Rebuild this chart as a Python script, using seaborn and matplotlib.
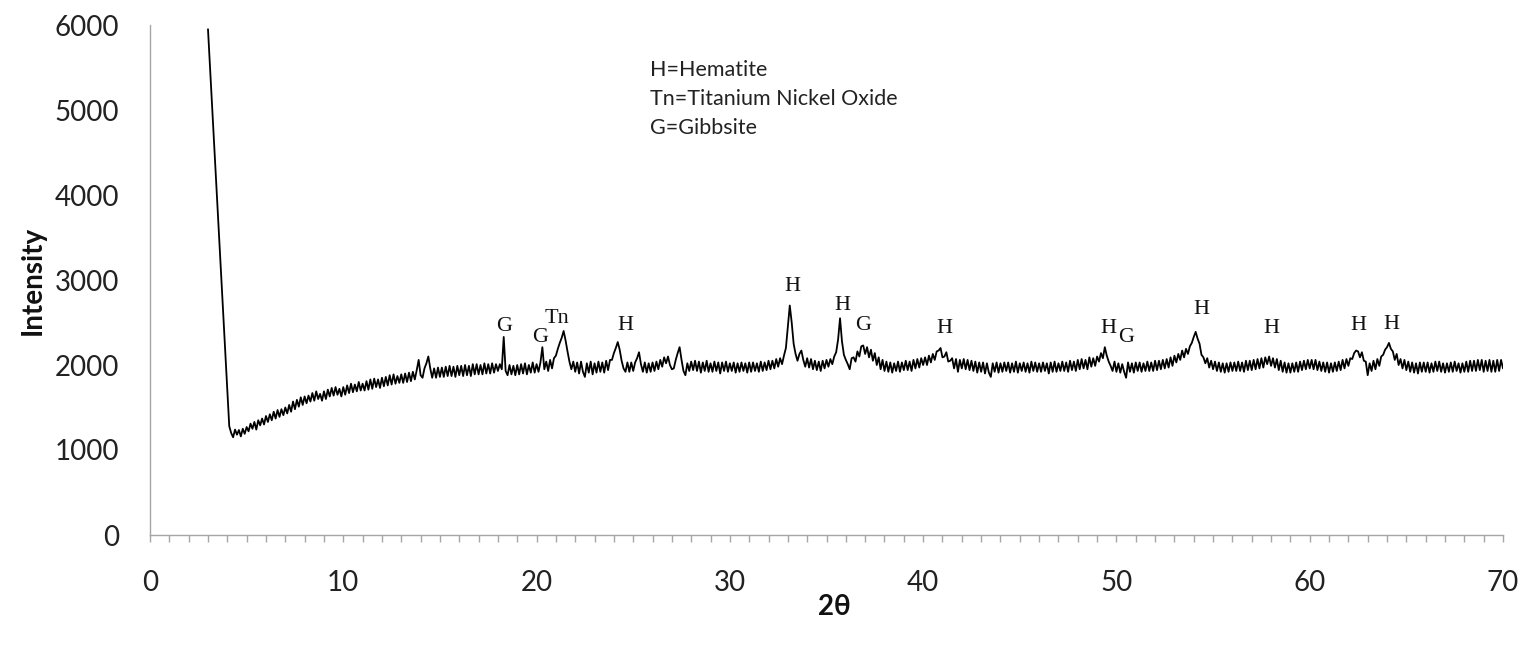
import numpy as np
import pandas as pd
import matplotlib
matplotlib.use("Agg")
import matplotlib.pyplot as plt
import seaborn as sns
from matplotlib.ticker import MultipleLocator

# ---- data ----
two_theta_start = 3.0
two_theta_step = 0.1
intensity = [
    # 3.0 - 5.0
    5950, 5525, 5100, 4675, 4250, 3825, 3400, 2975, 2550, 2125, 1700, 1280,
    1200, 1150, 1240, 1180, 1235, 1160, 1250, 1190, 1270,
    # 5.1 - 10.0
    1220, 1310, 1250, 1330, 1240, 1350, 1290, 1370, 1300, 1400,
    1330, 1420, 1350, 1450, 1370, 1470, 1390, 1480, 1410, 1500,
    1430, 1530, 1450, 1570, 1480, 1590, 1510, 1620, 1530, 1630,
    1550, 1640, 1570, 1670, 1580, 1690, 1600, 1660, 1580, 1690,
    1600, 1710, 1630, 1730, 1640, 1740, 1650, 1720, 1630, 1740,
    # 10.1 - 15.0
    1650, 1760, 1670, 1780, 1680, 1770, 1690, 1800, 1700, 1780,
    1700, 1810, 1710, 1830, 1720, 1840, 1740, 1830, 1730, 1850,
    1750, 1860, 1760, 1880, 1770, 1890, 1780, 1870, 1790, 1890,
    1790, 1900, 1800, 1910, 1810, 1920, 1830, 1940, 2060, 1880,
    1850, 1960, 2020, 2100, 1960, 1850, 1960, 1850, 1970, 1860,
    # 15.1 - 20.0
    1970, 1860, 1980, 1870, 1990, 1870, 1980, 1860, 1990, 1880,
    1990, 1870, 2000, 1880, 1990, 1870, 2010, 1890, 2010, 1890,
    2000, 1890, 2020, 1900, 2010, 1900, 2020, 1910, 2010, 1930,
    2010, 1950, 2330, 1930, 1880, 2000, 1890, 1990, 1880, 2000,
    1890, 2010, 1900, 2020, 1890, 2000, 1910, 2030, 1910, 2010,
    # 20.1 - 25.0
    1920, 2030, 2210, 1950, 2040, 1930, 2060, 1960, 2080, 2110,
    2190, 2260, 2320, 2400, 2290, 2160, 2040, 1950, 2040, 1920,
    2030, 1900, 2040, 1920, 1860, 2020, 1910, 2040, 1890, 2020,
    1910, 2040, 1920, 2030, 1910, 2050, 1940, 2060, 2060, 2140,
    2200, 2270, 2180, 2050, 1960, 1920, 2030, 1920, 2030, 1930,
    # 25.1 - 30.0
    2030, 2080, 2150, 2010, 1920, 2030, 1910, 2020, 1920, 2030,
    1930, 2040, 1950, 2060, 1980, 2090, 2020, 2100, 2000, 1950,
    1960, 2060, 2140, 2210, 2060, 1930, 1880, 2020, 1930, 2040,
    1940, 2050, 1930, 2040, 1910, 2030, 1930, 2050, 1920, 2020,
    1920, 2040, 1930, 2030, 1900, 2030, 1930, 2040, 1920, 2020,
    # 30.1 - 35.0
    1930, 2030, 1910, 2020, 1920, 2030, 1930, 2020, 1910, 2030,
    1920, 2030, 1930, 2020, 1920, 2040, 1930, 2030, 1940, 2050,
    1950, 2050, 1960, 2070, 1980, 2080, 2010, 2110, 2200, 2450,
    2700, 2500, 2250, 2130, 2050, 2130, 2170, 2060, 1980, 2080,
    1970, 2070, 1950, 2050, 1940, 2040, 1930, 2050, 1960, 2060,
    # 35.1 - 40.0
    1980, 2070, 2010, 2100, 2150, 2300, 2550, 2280, 2120, 2060,
    2010, 1950, 2080, 2090, 2040, 2160, 2100, 2220, 2230, 2130,
    2210, 2090, 2180, 2050, 2140, 2000, 2090, 1950, 2060, 1930,
    2040, 1920, 2030, 1910, 2020, 1930, 2040, 1920, 2030, 1940,
    2050, 1940, 2040, 1930, 2060, 1960, 2070, 1970, 2080, 2000,
    # 40.1 - 45.0
    2090, 2000, 2110, 2030, 2130, 2060, 2160, 2170, 2200, 2090,
    2100, 2150, 2040, 2050, 2080, 1960, 2070, 1920, 2060, 1960,
    2070, 1950, 2060, 1940, 2050, 1930, 2040, 1910, 2030, 1920,
    2030, 1900, 2020, 1910, 1860, 2020, 1920, 2030, 1910, 2020,
    1920, 2030, 1930, 2030, 1910, 2020, 1920, 2040, 1910, 2020,
    # 45.1 - 50.0
    1930, 2030, 1920, 2020, 1910, 2040, 1930, 2030, 1920, 2020,
    1920, 2030, 1930, 2020, 1900, 2030, 1920, 2040, 1920, 2020,
    1930, 2040, 1930, 2030, 1920, 2050, 1940, 2040, 1930, 2060,
    1950, 2070, 1960, 2060, 1950, 2090, 1980, 2080, 1990, 2100,
    2040, 2140, 2080, 2210, 2110, 2040, 1990, 1930, 2040, 1920,
    # 50.1 - 55.0
    2020, 1910, 2010, 1920, 1850, 2030, 1920, 2020, 1910, 2030,
    1930, 2030, 1920, 2020, 1930, 2040, 1930, 2030, 1930, 2050,
    1940, 2050, 1950, 2060, 1960, 2070, 1970, 2090, 1990, 2110,
    2030, 2130, 2060, 2170, 2090, 2190, 2130, 2220, 2260, 2330,
    2390, 2310, 2250, 2120, 2090, 2020, 2080, 1970, 2050, 1950,
    # 55.1 - 60.0
    2040, 1930, 2030, 1920, 2020, 1910, 2020, 1920, 2030, 1930,
    2030, 1930, 2040, 1930, 2030, 1920, 2050, 1940, 2050, 1940,
    2060, 1950, 2070, 1960, 2080, 1970, 2090, 2010, 2100, 1990,
    2080, 1970, 2070, 1940, 2050, 1920, 2030, 1910, 2020, 1910,
    2020, 1920, 2030, 1920, 2040, 1940, 2050, 1950, 2060, 1960,
    # 60.1 - 65.0
    2060, 1950, 2060, 1940, 2040, 1930, 2030, 1920, 2030, 1910,
    2020, 1920, 2030, 1930, 2040, 1940, 2060, 1960, 2070, 1990,
    2080, 2070, 2140, 2170, 2160, 2090, 2150, 2050, 2040, 1880,
    2020, 1930, 2050, 1950, 2070, 1990, 2100, 2120, 2180, 2210,
    2260, 2190, 2160, 2060, 2130, 2000, 2070, 1960, 2060, 1940,
    # 65.1 - 70.0
    2040, 1920, 2030, 1910, 2020, 1900, 2030, 1920, 2030, 1920,
    2030, 1910, 2020, 1920, 2040, 1930, 2040, 1920, 2020, 1910,
    2020, 1920, 2030, 1920, 2040, 1930, 2020, 1910, 2020, 1920,
    2040, 1920, 2050, 1930, 2050, 1930, 2060, 1940, 2060, 1920,
    2050, 1930, 2060, 1920, 2050, 1920, 2060, 1930, 2060, 1960,
]

peak_labels = ["G", "G", "Tn", "H", "H", "H", "G", "H", "H", "G", "H", "H", "H", "H"]
peak_label_x = [18.3, 20.2, 21.05, 24.6, 33.25, 35.8, 36.9, 41.1, 49.6, 50.5, 54.4, 58.0, 62.5, 64.2]
peak_label_y = [2450, 2320, 2550, 2470, 2920, 2700, 2470, 2435, 2435, 2320, 2650, 2435, 2460, 2480]

legend_lines = ["H=Hematite", "Tn=Titanium Nickel Oxide", "G=Gibbsite"]

x_label = "2θ"
y_label = "Intensity"

# ---- build table ----
two_theta = two_theta_start + two_theta_step * np.arange(len(intensity))
df = pd.DataFrame({"two_theta": two_theta, "intensity": intensity})

sns.set_theme(style="white")
plt.rcParams["font.family"] = ["Lato", "DejaVu Sans"]

W, H = 1528, 645
fig = plt.figure(figsize=(W / 100, H / 100), dpi=100)
ax = fig.add_axes([150 / W, 1 - 535 / H, (1503 - 150) / W, (535 - 25) / H])

sns.lineplot(data=df, x="two_theta", y="intensity", ax=ax, color="black",
             linewidth=1.3, estimator=None)

ax.set_xlim(0, 70)
ax.set_ylim(0, 6000)
ax.xaxis.set_major_locator(MultipleLocator(10))
ax.xaxis.set_minor_locator(MultipleLocator(1))
ax.yaxis.set_major_locator(MultipleLocator(1000))

spine_col = "#a6a6a6"
for s in ["top", "right"]:
    ax.spines[s].set_visible(False)
for s in ["left", "bottom"]:
    ax.spines[s].set_color(spine_col)
    ax.spines[s].set_linewidth(1.0)

ax.tick_params(axis="x", which="both", direction="out", length=5, width=1,
               color=spine_col, bottom=True, labelsize=20, pad=20, labelcolor="#222222")
ax.tick_params(axis="y", which="both", length=0, labelsize=20, pad=22, labelcolor="#222222")
ax.set_xlabel("")
ax.set_ylabel("")
ax.grid(False)

for lab, lx, ly in zip(peak_labels, peak_label_x, peak_label_y):
    ax.text(lx, ly, lab, ha="center", va="center", fontsize=16,
            family=["Liberation Serif", "DejaVu Serif"], color="#111111")

for i, line in enumerate(legend_lines):
    fig.text(650 / W, 1 - (70 + 29 * i) / H, line, ha="left", va="center",
             fontsize=15.5, color="#222222")

fig.text(33 / W, 1 - 280 / H, y_label, rotation=90, ha="center", va="center",
         fontsize=20, fontweight="bold", color="#111111")
fig.text(834 / W, 1 - 607 / H, x_label, ha="center", va="center",
         fontsize=20, fontweight="bold", color="#111111",
         family=["Lato", "DejaVu Sans"])

fig.savefig("out.png", dpi=100)
